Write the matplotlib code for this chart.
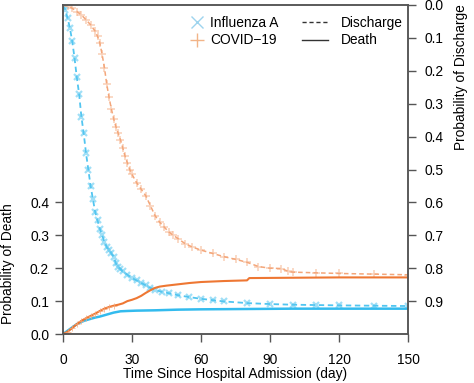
import numpy as np
import matplotlib
matplotlib.use("Agg")
import matplotlib.pyplot as plt
import matplotlib.transforms as mtransforms
from matplotlib.lines import Line2D

# ---------------- data ----------------
flu_dis_t = [0, 1, 2, 3, 4, 5, 6, 7, 8, 9, 10, 11, 12, 13, 14, 15, 16, 17, 18, 19, 20,
             21, 22, 23, 24, 25, 26, 28, 30, 32, 34, 36, 38, 40, 43, 46, 50, 55, 60, 65,
             70, 80, 90, 100, 110, 120, 135, 150]
flu_dis_v = [1.0, 0.985, 0.96, 0.93, 0.89, 0.84, 0.78, 0.73, 0.66, 0.61, 0.55, 0.5, 0.45,
             0.41, 0.37, 0.345, 0.32, 0.3, 0.28, 0.265, 0.255, 0.245, 0.235, 0.215, 0.205,
             0.197, 0.19, 0.18, 0.17, 0.163, 0.155, 0.148, 0.14, 0.134, 0.128, 0.124, 0.118,
             0.112, 0.107, 0.103, 0.099, 0.094, 0.091, 0.089, 0.088, 0.087, 0.086, 0.085]

cov_dis_t = [0, 2, 4, 6, 8, 10, 12, 14, 15, 16, 17, 18, 19, 20, 21, 22, 23, 24, 25, 26, 27,
             28, 29, 30, 32, 34, 36, 38, 40, 42, 44, 46, 48, 50, 53, 56, 60, 65, 70, 75, 80,
             85, 90, 95, 98, 100, 110, 120, 135, 150]
cov_dis_v = [1.0, 0.997, 0.99, 0.98, 0.97, 0.955, 0.94, 0.92, 0.905, 0.885, 0.85, 0.81, 0.76,
             0.72, 0.685, 0.655, 0.63, 0.61, 0.59, 0.565, 0.54, 0.52, 0.5, 0.485, 0.46, 0.44,
             0.42, 0.39, 0.36, 0.34, 0.325, 0.31, 0.3, 0.29, 0.275, 0.265, 0.255, 0.245,
             0.235, 0.227, 0.218, 0.205, 0.2, 0.199, 0.19, 0.188, 0.186, 0.184, 0.182, 0.18]

flu_death_t = [0, 2, 4, 6, 8, 10, 12, 14, 16, 18, 20, 22, 25, 28, 32, 40, 50, 60, 80, 100, 120, 150]
flu_death_v = [0, 0.01, 0.02, 0.03, 0.037, 0.042, 0.046, 0.05, 0.053, 0.057, 0.061, 0.065,
               0.069, 0.07, 0.071, 0.072, 0.074, 0.075, 0.076, 0.077, 0.077, 0.077]

cov_death_t = [0, 2, 4, 6, 8, 10, 12, 14, 16, 18, 20, 22, 24, 26, 28, 30, 32, 34, 36, 38, 40,
               42, 45, 50, 55, 60, 70, 80, 81, 100, 120, 150]
cov_death_v = [0, 0.007, 0.018, 0.03, 0.04, 0.048, 0.055, 0.062, 0.07, 0.077, 0.082, 0.086,
               0.089, 0.093, 0.1, 0.104, 0.109, 0.116, 0.125, 0.133, 0.14, 0.144, 0.147,
               0.151, 0.155, 0.158, 0.161, 0.163, 0.17, 0.171, 0.172, 0.172]

x_ticks = [0, 30, 60, 90, 120, 150]
left_ticks = [0.0, 0.1, 0.2, 0.3, 0.4]
right_ticks = [0.0, 0.1, 0.2, 0.3, 0.4, 0.5, 0.6, 0.7, 0.8, 0.9]
series_labels = ["Influenza A", "COVID\u221219"]
type_labels = ["Discharge", "Death"]

# ---------------- style ----------------
plt.rcParams['font.family'] = ['Liberation Sans', 'DejaVu Sans']
FS = 9.9
CYAN = '#33BBEE'
ORANGE = '#EE7733'
CYAN_L = '#55C6F0'
ORANGE_L = '#F4A77A'
SPINE = '#555555'

fig = plt.figure(figsize=(4.74, 3.83), dpi=100)
ax = fig.add_axes([63 / 474, 49 / 383, 345 / 474, 329 / 383])

# discharge curves (dashed, light, dense censor marks)
ax.plot(flu_dis_t, flu_dis_v, ls=(0, (3, 2)), lw=1.3, color=CYAN, alpha=0.85)
ax.plot(flu_dis_t, flu_dis_v, ls='none', marker='x', ms=4.5, mew=1.6, color=CYAN_L, alpha=0.55)
ax.plot(cov_dis_t, cov_dis_v, ls=(0, (3, 2)), lw=1.1, color=ORANGE, alpha=0.65)
ax.plot(cov_dis_t, cov_dis_v, ls='none', marker='+', ms=5.5, mew=1.2, color=ORANGE_L, alpha=0.5)

# death curves (solid)
ax.plot(flu_death_t, flu_death_v, lw=1.8, color=CYAN)
ax.plot(cov_death_t, cov_death_v, lw=1.5, color=ORANGE)
ax.plot(cov_death_t[:12], cov_death_v[:12], ls='none', marker='+', ms=4, mew=0.7,
        color=ORANGE_L, alpha=0.7)

ax.set_xlim(0, 150)
ax.set_ylim(0, 1)
ax.set_xticks(x_ticks)
ax.set_xticklabels([str(v) for v in x_ticks], fontsize=FS)
ax.set_yticks(left_ticks)
ax.set_yticklabels(['%.1f' % v for v in left_ticks], fontsize=FS)
ax.tick_params(axis='x', direction='out', length=6, width=1, color=SPINE, pad=8)
ax.tick_params(axis='y', direction='out', length=6, width=1, color=SPINE, pad=4)
for s in ax.spines.values():
    s.set_color(SPINE)
    s.set_linewidth(1.1)

ax2 = ax.twinx()
ax2.set_ylim(1, 0)
ax2.set_yticks(right_ticks)
ax2.set_yticklabels(['%.1f' % v for v in right_ticks], fontsize=FS)
ax2.tick_params(axis='y', direction='out', length=6, width=1, color=SPINE, pad=6)
for s in ax2.spines.values():
    s.set_color(SPINE)
    s.set_linewidth(1.1)

# axis labels
blend = mtransforms.blended_transform_factory(ax.transAxes, ax.transData)
ax.text(-55 / 345, 0.215, "Probability of Death", rotation=90, ha='center', va='center',
        fontsize=FS, transform=blend)
ax.text(1 + 53 / 345, 0.78, "Probability of Discharge", rotation=90, ha='center', va='center',
        fontsize=FS, transform=blend)
ax.text(0.5, -40 / 329, "Time Since Hospital Admission (day)", ha='center', va='center',
        fontsize=FS, transform=ax.transAxes)

# legends
h1 = [Line2D([], [], ls='none', marker='x', ms=8, mew=1.0, color='#9DD4EE'),
      Line2D([], [], ls='none', marker='+', ms=10, mew=1.0, color='#F2B488')]
leg1 = ax.legend(h1, series_labels, loc='upper left', bbox_to_anchor=((190 - 63) / 345, 1 - 11 / 329),
                 frameon=False, fontsize=FS, handlelength=1.0, handletextpad=0.45,
                 labelspacing=0.25, borderaxespad=0, borderpad=0)
ax.add_artist(leg1)
h2 = [Line2D([], [], ls=(0, (3, 2)), lw=1.0, color='#333333'),
      Line2D([], [], ls='-', lw=1.0, color='#333333')]
ax.legend(h2, type_labels, loc='upper left', bbox_to_anchor=((302 - 63) / 345, 1 - 11 / 329),
          frameon=False, fontsize=FS, handlelength=1.9, handletextpad=0.9,
          labelspacing=0.25, borderaxespad=0, borderpad=0)

fig.savefig("out.png", dpi=100)
